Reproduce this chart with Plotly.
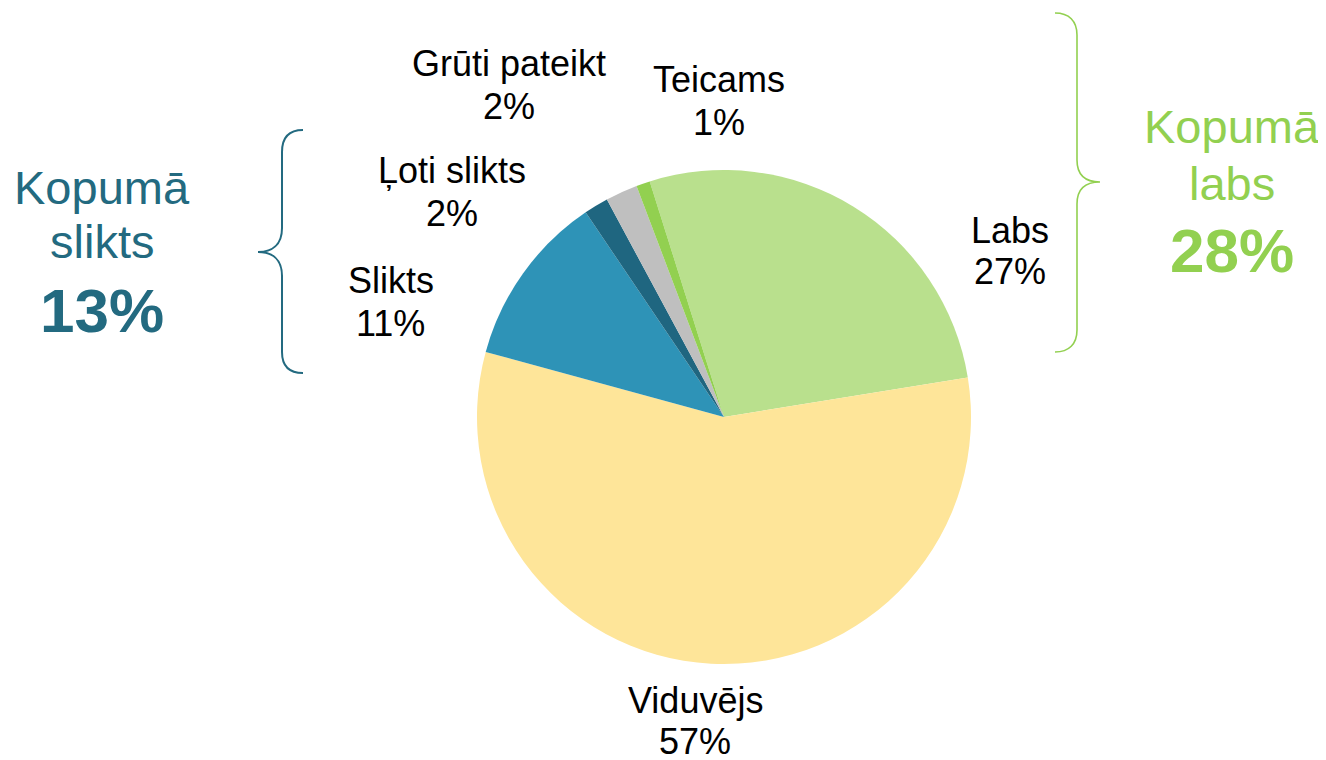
import plotly.graph_objects as go

# ---- data ----
categories = ["Labs", "Viduvējs", "Slikts", "Ļoti slikts", "Grūti pateikt", "Teicams"]
values = [27.3, 56.8, 11.3, 1.6, 2.1, 0.9]
pct_labels = ["27%", "57%", "11%", "2%", "2%", "1%"]
colors = ["#B9E08D", "#FEE599", "#2E93B7", "#1F6680", "#BFBFBF", "#92D050"]

group_bad_title = ["Kopumā", "slikts"]
group_bad_value = "13%"
group_good_title = ["Kopumā", "labs"]
group_good_value = "28%"

W, H = 1326, 760
OFF = 8  # page body margin
FONT = "Liberation Sans, Arial, sans-serif"
TEAL = "#236A80"
GREEN = "#92D050"


def px(x):
    return (x - OFF) / W


def py(y):
    return 1 - (y - OFF) / H


fig = go.Figure()
fig.add_trace(go.Pie(
    labels=categories,
    values=values,
    sort=False,
    direction="clockwise",
    rotation=-17.5,
    marker=dict(colors=colors, line=dict(width=0)),
    textinfo="none",
    hoverinfo="label+percent",
    showlegend=False,
    domain=dict(x=[px(477), px(971)], y=[py(664), py(170)]),
))

# label positions (pixel centers of name line / percent line)
label_pos = {
    "Labs": (1010, 230, 271),
    "Viduvējs": (695, 700, 741),
    "Slikts": (391, 280, 323),
    "Ļoti slikts": (452, 170, 213),
    "Grūti pateikt": (509, 63, 106),
    "Teicams": (719, 80, 123),
}

annotations = []
for name, pct in zip(categories, pct_labels):
    cx, y1, y2 = label_pos[name]
    for txt, yy in ((name, y1), (pct, y2)):
        annotations.append(dict(
            x=px(cx), y=py(yy), xref="paper", yref="paper",
            text=txt, showarrow=False, xanchor="center", yanchor="middle",
            font=dict(family=FONT, size=36, color="black"),
        ))

# group summaries
for (txt, yy) in zip(group_bad_title, (187, 241)):
    annotations.append(dict(x=px(102), y=py(yy), xref="paper", yref="paper", text=txt,
                            showarrow=False, xanchor="center", yanchor="middle",
                            font=dict(family=FONT, size=47, color=TEAL)))
annotations.append(dict(x=px(102), y=py(310), xref="paper", yref="paper",
                        text="<b>" + group_bad_value + "</b>",
                        showarrow=False, xanchor="center", yanchor="middle",
                        font=dict(family=FONT, size=62, color=TEAL)))
for (txt, yy) in zip(group_good_title, (126, 183)):
    annotations.append(dict(x=px(1232), y=py(yy), xref="paper", yref="paper", text=txt,
                            showarrow=False, xanchor="center", yanchor="middle",
                            font=dict(family=FONT, size=47, color=GREEN)))
annotations.append(dict(x=px(1232), y=py(251), xref="paper", yref="paper",
                        text="<b>" + group_good_value + "</b>",
                        showarrow=False, xanchor="center", yanchor="middle",
                        font=dict(family=FONT, size=62, color=GREEN)))


def path_from(cmds):
    out = []
    for c in cmds:
        if isinstance(c, str):
            out.append(c)
        else:
            out.append(f"{px(c[0]):.5f},{py(c[1]):.5f}")
    return " ".join(out)


left_brace = path_from([
    "M", (303, 130), "C", (289, 130), (282, 138), (282, 152),
    "L", (282, 228), "C", (282, 245), (272, 252), (258, 252),
    "C", (272, 252), (282, 259), (282, 276),
    "L", (282, 352), "C", (282, 366), (289, 373), (303, 373),
])
right_brace = path_from([
    "M", (1055, 13), "C", (1069, 13), (1077, 21), (1077, 35),
    "L", (1077, 160), "C", (1077, 176), (1086, 182), (1100, 182),
    "C", (1086, 182), (1077, 188), (1077, 204),
    "L", (1077, 330), "C", (1077, 344), (1069, 352), (1055, 352),
])

shapes = [
    dict(type="path", xref="paper", yref="paper", path=left_brace,
         line=dict(color=TEAL, width=2)),
    dict(type="path", xref="paper", yref="paper", path=right_brace,
         line=dict(color=GREEN, width=1.6)),
]

fig.update_layout(
    width=W, height=H,
    margin=dict(l=0, r=0, t=0, b=0),
    paper_bgcolor="white", plot_bgcolor="white",
    annotations=annotations, shapes=shapes,
    font=dict(family=FONT),
)

fig.write_html("out.html")
